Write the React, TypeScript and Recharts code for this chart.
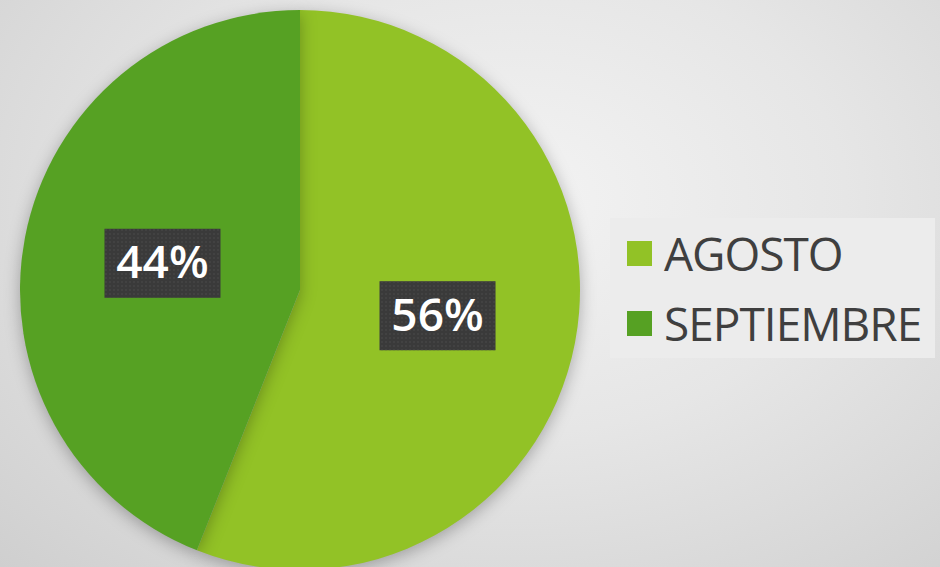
import React from "react";
import { PieChart, Pie, Cell, Legend } from "recharts";

const months = ["AGOSTO", "SEPTIEMBRE"];
const shares = [56, 44];
const colors = ["#92C226", "#56A123"];

const data = months.map((name, i) => ({ name, value: shares[i] }));

const RADIAN = Math.PI / 180;

function renderLabel(props: any) {
  const { cx, cy, midAngle, outerRadius, value } = props;
  const r = outerRadius * 0.5;
  const x = cx + r * Math.cos(-midAngle * RADIAN);
  const y = cy + r * Math.sin(-midAngle * RADIAN);
  return (
    <g>
      <rect x={x - 58} y={y - 35} width={116} height={69} fill="#3a3a3a" />
      <rect x={x - 58} y={y - 35} width={116} height={69} fill="url(#dots)" />
      <text
        x={x}
        y={y + 2}
        fill="#ffffff"
        textAnchor="middle"
        dominantBaseline="middle"
        fontFamily="'Open Sans', 'Noto Sans', sans-serif"
        fontWeight={600}
        fontSize={46}
      >
        {`${value}%`}
      </text>
    </g>
  );
}

function LegendBox() {
  return (
    <div
      style={{
        width: 325,
        height: 140,
        background: "#ececec",
        boxSizing: "border-box",
        paddingLeft: 17,
      }}
    >
      {data.map((d, i) => (
        <div
          key={d.name}
          style={{ display: "flex", alignItems: "center", height: 70 }}
        >
          <span
            style={{
              width: 25,
              height: 25,
              flexShrink: 0,
              background: colors[i],
              display: "inline-block",
              marginRight: 12,
            }}
          />
          <span
            style={{
              fontFamily: "'Open Sans', sans-serif",
              fontSize: 46,
              letterSpacing: -1,
              color: "#3f3f3f",
              lineHeight: 1,
              whiteSpace: "nowrap",
            }}
          >
            {d.name}
          </span>
        </div>
      ))}
    </div>
  );
}

export default function App() {
  return (
    <div
      style={{
        position: "absolute",
        left: 0,
        top: 0,
        width: 940,
        height: 567,
        overflow: "hidden",
        background:
          "radial-gradient(ellipse at 55% 35%, #f3f3f3 0%, #e6e6e6 45%, #cfcfcf 100%)",
      }}
    >
      <style>{`.recharts-pie-sector { filter: drop-shadow(0 4px 8px rgba(0,0,0,0.28)); }`}</style>
      <PieChart
        width={940}
        height={567}
        margin={{ top: 0, right: 0, bottom: 0, left: 0 }}
      >
        <defs>
          <pattern id="dots" width="4" height="4" patternUnits="userSpaceOnUse">
            <circle cx="2" cy="2" r="0.8" fill="#4a4a4a" />
          </pattern>
        </defs>
        <Pie
          data={data}
          dataKey="value"
          nameKey="name"
          cx={300}
          cy={290}
          outerRadius={280}
          startAngle={90}
          endAngle={-270}
          stroke="none"
          labelLine={false}
          label={renderLabel}
          isAnimationActive={false}
        >
          {data.map((d, i) => (
            <Cell key={d.name} fill={colors[i]} />
          ))}
        </Pie>
        <Legend
          content={() => <LegendBox />}
          wrapperStyle={{ left: 610, top: 218, width: 325 }}
        />
      </PieChart>
    </div>
  );
}
